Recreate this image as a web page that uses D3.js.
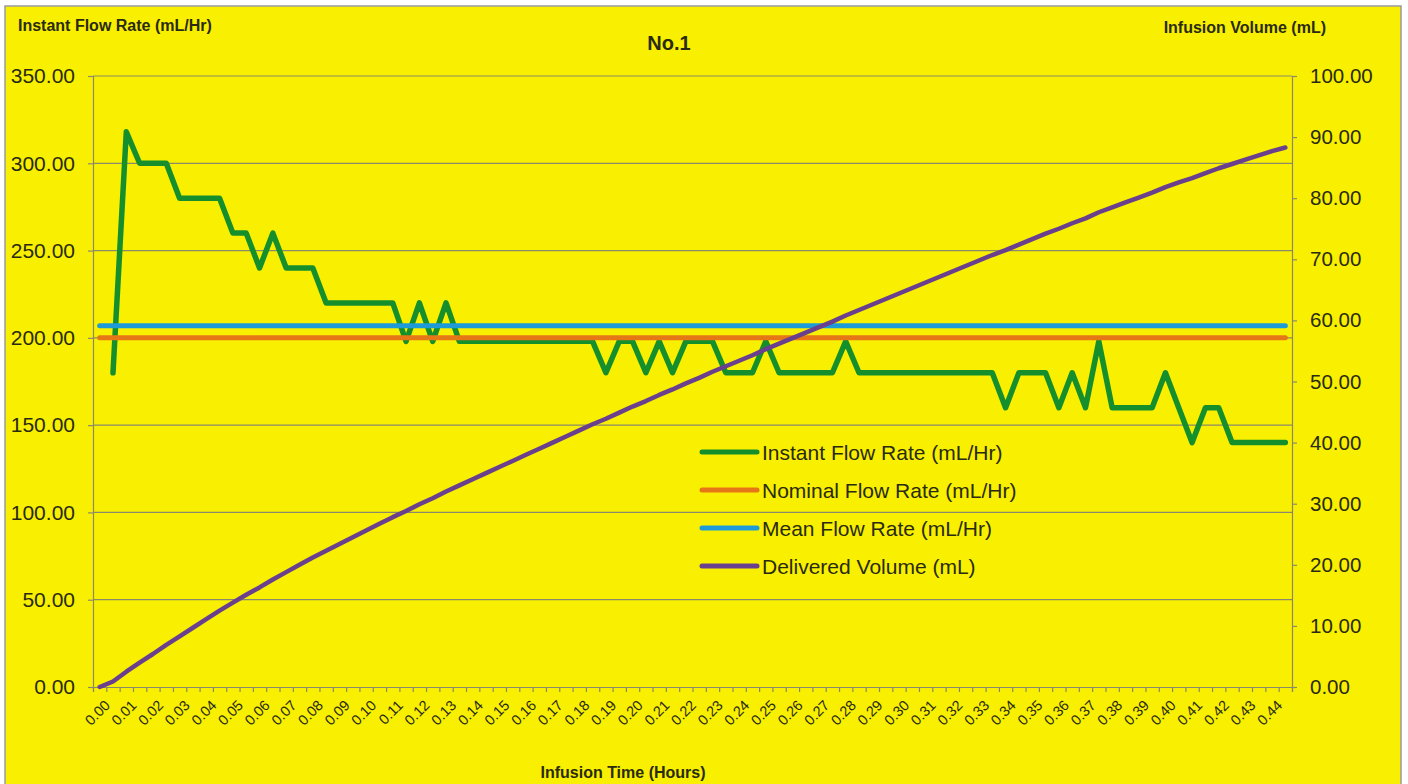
<!DOCTYPE html>
<html>
<head>
<meta charset="utf-8">
<script src="https://cdn.jsdelivr.net/npm/d3@7"></script>
<style>
  body { margin: 0; background: #fff; }
  svg { display: block; font-family: "Liberation Sans", Arial, sans-serif; }
</style>
</head>
<body>
<svg id="chart"></svg>
<script>
// infusion time, one category every 0.005 h
const timeHours = [
  0.000, 0.005, 0.010, 0.015, 0.020, 0.025, 0.030, 0.035, 0.040, 0.045,
  0.050, 0.055, 0.060, 0.065, 0.070, 0.075, 0.080, 0.085, 0.090, 0.095,
  0.100, 0.105, 0.110, 0.115, 0.120, 0.125, 0.130, 0.135, 0.140, 0.145,
  0.150, 0.155, 0.160, 0.165, 0.170, 0.175, 0.180, 0.185, 0.190, 0.195,
  0.200, 0.205, 0.210, 0.215, 0.220, 0.225, 0.230, 0.235, 0.240, 0.245,
  0.250, 0.255, 0.260, 0.265, 0.270, 0.275, 0.280, 0.285, 0.290, 0.295,
  0.300, 0.305, 0.310, 0.315, 0.320, 0.325, 0.330, 0.335, 0.340, 0.345,
  0.350, 0.355, 0.360, 0.365, 0.370, 0.375, 0.380, 0.385, 0.390, 0.395,
  0.400, 0.405, 0.410, 0.415, 0.420, 0.425, 0.430, 0.435, 0.440, 0.445
];

// instant flow rate (mL/Hr), left axis
const instantRate = [
  null, 180, 318, 300, 300, 300, 280, 280, 280, 280,
  260, 260, 240, 260, 240, 240, 240, 220, 220, 220,
  220, 220, 220, 198, 220, 198, 220, 198, 198, 198,
  198, 198, 198, 198, 198, 198, 198, 198, 180, 198,
  198, 180, 198, 180, 198, 198, 198, 180, 180, 180,
  198, 180, 180, 180, 180, 180, 198, 180, 180, 180,
  180, 180, 180, 180, 180, 180, 180, 180, 160, 180,
  180, 180, 160, 180, 160, 198, 160, 160, 160, 160,
  180, 160, 140, 160, 160, 140, 140, 140, 140, 140
];

const nominalRate = 200;
const meanRate = 207;

// delivered volume (mL), right axis
const deliveredVolume = [
  0, 0.9, 2.5, 4.0, 5.4, 6.9, 8.3, 9.7, 11.1, 12.5,
  13.8, 15.1, 16.3, 17.6, 18.8, 20.0, 21.2, 22.3, 23.4, 24.5,
  25.6, 26.7, 27.8, 28.8, 29.9, 30.9, 32.0, 33.0, 34.0, 35.0,
  36.0, 37.0, 38.0, 39.0, 40.0, 41.0, 42.0, 43.0, 43.9, 44.9,
  45.9, 46.8, 47.8, 48.7, 49.7, 50.6, 51.6, 52.5, 53.4, 54.3,
  55.3, 56.2, 57.1, 58.0, 58.9, 59.8, 60.8, 61.7, 62.6, 63.5,
  64.4, 65.3, 66.2, 67.1, 68.0, 68.9, 69.8, 70.7, 71.5, 72.4,
  73.3, 74.2, 75.0, 75.9, 76.7, 77.7, 78.5, 79.3, 80.1, 80.9,
  81.8, 82.6, 83.3, 84.1, 84.9, 85.6, 86.3, 87.0, 87.7, 88.3
];

const leftTicks = [0, 50, 100, 150, 200, 250, 300, 350];
const rightTicks = [0, 10, 20, 30, 40, 50, 60, 70, 80, 90, 100];
const seriesNames = [
  'Instant Flow Rate (mL/Hr)',
  'Nominal Flow Rate (mL/Hr)',
  'Mean Flow Rate (mL/Hr)',
  'Delivered Volume (mL)'
];
const seriesColors = ['#158f2c', '#e67717', '#1d9ad8', '#6a3f8e'];

const width = 1408;
const height = 784;
const margin = { top: 76, right: 116, bottom: 97, left: 93 };
const innerWidth = width - margin.left - margin.right;
const innerHeight = height - margin.top - margin.bottom;
const textColor = '#2a2a10';
const gridColor = '#8a8a6a';

const svg = d3.select('#chart').attr('width', width).attr('height', height);

// yellow chart background with thin frame
svg.append('rect')
  .attr('x', 5).attr('y', 6)
  .attr('width', 1396).attr('height', 790)
  .attr('fill', '#f8f000')
  .attr('stroke', '#9a9a9a')
  .attr('stroke-width', 1.5);

const g = svg.append('g')
  .attr('transform', `translate(${margin.left},${margin.top})`);

// category scale: index boundaries, points at centers
const xIdx = d3.scaleLinear().domain([0, timeHours.length]).range([0, innerWidth]);
const xPos = i => xIdx(i + 0.5);

const yLeft = d3.scaleLinear().domain([0, 350]).range([innerHeight, 0]);
const yRight = d3.scaleLinear().domain([0, 100]).range([innerHeight, 0]);

// gridlines
g.append('g')
  .selectAll('line')
  .data(leftTicks.filter(d => d > 0))
  .enter().append('line')
  .attr('x1', 0).attr('x2', innerWidth)
  .attr('y1', d => yLeft(d)).attr('y2', d => yLeft(d))
  .attr('stroke', gridColor)
  .attr('stroke-width', 1.2);

// left axis
const yAxisL = d3.axisLeft(yLeft)
  .tickValues(leftTicks)
  .tickFormat(d3.format('.2f'))
  .tickSize(5)
  .tickPadding(13);

const yAxisLG = g.append('g').call(yAxisL);
yAxisLG.selectAll('.domain').attr('stroke', gridColor).attr('stroke-width', 1.2);
yAxisLG.selectAll('.tick line').attr('stroke', gridColor).attr('stroke-width', 1.2);
yAxisLG.selectAll('.tick text').style('font-size', '21px').attr('fill', textColor);

// right axis
const yAxisR = d3.axisRight(yRight)
  .tickValues(rightTicks)
  .tickFormat(d3.format('.2f'))
  .tickSize(5)
  .tickPadding(13);

const yAxisRG = g.append('g')
  .attr('transform', `translate(${innerWidth},0)`)
  .call(yAxisR);
yAxisRG.selectAll('.domain').attr('stroke', gridColor).attr('stroke-width', 1.2);
yAxisRG.selectAll('.tick line').attr('stroke', gridColor).attr('stroke-width', 1.2);
yAxisRG.selectAll('.tick text').style('font-size', '20.5px').attr('fill', textColor);

// x axis: ticks at category boundaries, labels every other category
const xAxis = d3.axisBottom(xIdx)
  .tickValues(d3.range(0, timeHours.length + 1))
  .tickFormat('')
  .tickSize(5);

const xAxisG = g.append('g')
  .attr('transform', `translate(0,${innerHeight})`)
  .call(xAxis);
xAxisG.selectAll('.domain').attr('stroke', gridColor).attr('stroke-width', 1.2);
xAxisG.selectAll('.tick line').attr('stroke', gridColor).attr('stroke-width', 1.2);

const labelIdx = d3.range(0, timeHours.length, 2);
g.append('g')
  .selectAll('text')
  .data(labelIdx)
  .enter().append('text')
  .attr('transform', i => `translate(${xPos(i) + 4},${innerHeight + 12}) rotate(-45)`)
  .attr('text-anchor', 'end')
  .attr('dy', '0.7em')
  .style('font-size', '14.5px')
  .attr('fill', textColor)
  .text(i => timeHours[i].toFixed(2));

// series lines
const lineLeft = d3.line()
  .defined(d => d.value !== null)
  .x(d => xPos(d.i))
  .y(d => yLeft(d.value));

const lineRight = d3.line()
  .x(d => xPos(d.i))
  .y(d => yRight(d.value));

const instantData = instantRate.map((v, i) => ({ i, value: v }));
const nominalData = timeHours.map((t, i) => ({ i, value: nominalRate }));
const meanData = timeHours.map((t, i) => ({ i, value: meanRate }));
const volumeData = deliveredVolume.map((v, i) => ({ i, value: v }));

const series = [
  { data: instantData, gen: lineLeft, width: 5.5 },
  { data: nominalData, gen: lineLeft, width: 5 },
  { data: meanData, gen: lineLeft, width: 5 },
  { data: volumeData, gen: lineRight, width: 4.5 }
];

g.selectAll('.line-path')
  .data(series)
  .enter().append('path')
  .attr('class', 'line-path')
  .attr('d', d => d.gen(d.data))
  .attr('fill', 'none')
  .attr('stroke', (d, k) => seriesColors[k])
  .attr('stroke-width', d => d.width)
  .attr('stroke-linejoin', 'round')
  .attr('stroke-linecap', 'round');

// legend (no box)
const legend = svg.append('g')
  .attr('transform', 'translate(702,452)');

const legendItems = legend.selectAll('.legend-item')
  .data(seriesNames)
  .enter().append('g')
  .attr('class', 'legend-item')
  .attr('transform', (d, k) => `translate(0,${k * 38})`);

legendItems.append('line')
  .attr('x1', 0).attr('x2', 55)
  .attr('stroke', (d, k) => seriesColors[k])
  .attr('stroke-width', 5)
  .attr('stroke-linecap', 'round');

legendItems.append('text')
  .attr('x', 60)
  .attr('dy', '0.36em')
  .style('font-size', '21px')
  .attr('fill', textColor)
  .text(d => d);

// titles
svg.append('text')
  .attr('x', 669).attr('y', 50)
  .attr('text-anchor', 'middle')
  .style('font-size', '20px')
  .style('font-weight', 'bold')
  .attr('fill', textColor)
  .text('No.1');

svg.append('text')
  .attr('x', 18).attr('y', 31)
  .style('font-size', '16px')
  .style('font-weight', 'bold')
  .attr('fill', textColor)
  .text('Instant Flow Rate (mL/Hr)');

svg.append('text')
  .attr('x', 1326).attr('y', 33)
  .attr('text-anchor', 'end')
  .style('font-size', '16px')
  .style('font-weight', 'bold')
  .attr('fill', textColor)
  .text('Infusion Volume (mL)');

svg.append('text')
  .attr('x', 623).attr('y', 778)
  .attr('text-anchor', 'middle')
  .style('font-size', '16px')
  .style('font-weight', 'bold')
  .attr('fill', textColor)
  .text('Infusion Time (Hours)');
</script>
</body>
</html>
